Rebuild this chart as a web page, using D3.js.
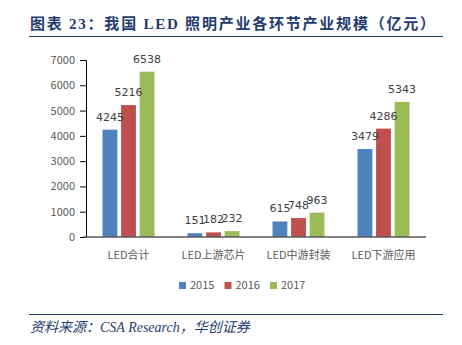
<!DOCTYPE html>
<html lang="zh">
<head>
  <meta charset="UTF-8">
  <title>我国LED照明产业各环节产业规模</title>
  <script src="https://d3js.org/d3.v7.min.js"></script>
  <style>
    body {
      margin: 0;
      background: #fff;
    }
    svg {
      display: block;
    }
    .title {
      font-family: 'Liberation Serif', 'Times New Roman', 'Noto Sans CJK SC', serif;
      font-weight: bold;
      font-size: 15px;
      fill: #1f3b70;
    }
    .source {
      font-family: 'Liberation Serif', 'Times New Roman', 'Noto Sans CJK SC', serif;
      font-style: italic;
      font-size: 14px;
      fill: #1f3b70;
    }
    .y-axis text, .x-label, .legend text {
      font-family: 'Noto Sans CJK SC', 'DejaVu Sans', sans-serif;
      font-size: 11px;
      fill: #595959;
    }
    .value {
      font-family: 'DejaVu Sans', 'Noto Sans CJK SC', sans-serif;
      font-size: 11px;
      fill: #404040;
    }
  </style>
</head>
<body>
  <svg width="462" height="345"></svg>

  <script>
    let categories = ['LED合计', 'LED上游芯片', 'LED中游封装', 'LED下游应用'];
    let years = ['2015', '2016', '2017'];
    let values2015 = [4245, 151, 615, 3479];
    let values2016 = [5216, 182, 748, 4286];
    let values2017 = [6538, 232, 963, 5343];
    let yTicks = [0, 1000, 2000, 3000, 4000, 5000, 6000, 7000];
    let colors = ['#4f81bd', '#c0504d', '#9bbb59'];

    let series = [values2015, values2016, values2017];
    let groupWidth = 52;

    let svg = d3.select('svg');

    // heading with rule below
    svg.append('text')
      .attr('class', 'title')
      .attr('x', 30)
      .attr('y', 29)
      .attr('textLength', 405)
      .attr('lengthAdjust', 'spacing')
      .text('图表 23：我国 LED 照明产业各环节产业规模（亿元）');
    svg.append('line')
      .attr('x1', 29).attr('x2', 443)
      .attr('y1', 36.5).attr('y2', 36.5)
      .attr('stroke', '#1f3b70')
      .attr('stroke-width', 1.2);

    let x0 = d3.scaleBand()
      .domain(categories)
      .range([86, 426]);

    let x1 = d3.scaleBand()
      .domain(years)
      .range([0, groupWidth])
      .paddingInner(0.2);

    let y = d3.scaleLinear()
      .domain([0, 7000])
      .range([237, 60]);

    // y axis
    let yAxis = svg.append('g')
      .attr('class', 'y-axis')
      .attr('transform', 'translate(86,0)')
      .call(d3.axisLeft(y).tickValues(yTicks).tickFormat(d3.format('d')).tickSize(6).tickPadding(5));
    yAxis.select('.domain').attr('stroke', '#000');
    yAxis.selectAll('.tick line').attr('stroke', '#000');

    // bars
    let groups = svg.append('g')
      .selectAll('g')
      .data(categories)
      .join('g')
      .attr('transform', c => `translate(${x0(c) + (x0.bandwidth() - groupWidth) / 2},0)`);

    let cells = (c, ci) => years.map((yr, si) => ({ yr, si, v: series[si][ci] }));

    groups.selectAll('rect')
      .data(cells)
      .join('rect')
      .attr('x', d => x1(d.yr))
      .attr('y', d => y(d.v))
      .attr('width', x1.bandwidth())
      .attr('height', d => y(0) - y(d.v))
      .attr('fill', d => colors[d.si]);

    groups.selectAll('.value')
      .data(cells)
      .join('text')
      .attr('class', 'value')
      .attr('x', d => x1(d.yr) + x1.bandwidth() / 2)
      .attr('y', d => y(d.v) - 9)
      .attr('text-anchor', 'middle')
      .text(d => d.v);

    // x baseline
    svg.append('line')
      .attr('x1', 83).attr('x2', 426)
      .attr('y1', y(0)).attr('y2', y(0))
      .attr('stroke', '#595959')
      .attr('stroke-width', 1.5);

    svg.append('g')
      .selectAll('text')
      .data(categories)
      .join('text')
      .attr('class', 'x-label')
      .attr('x', c => x0(c) + x0.bandwidth() / 2)
      .attr('y', 259)
      .attr('text-anchor', 'middle')
      .text(c => c);

    // legend
    let legend = svg.append('g')
      .attr('class', 'legend')
      .selectAll('g')
      .data(years)
      .join('g')
      .attr('transform', (d, i) => `translate(${179 + i * 45.5},289)`);
    legend.append('rect')
      .attr('x', 0).attr('y', -7)
      .attr('width', 7).attr('height', 7)
      .attr('fill', (d, i) => colors[i]);
    legend.append('text')
      .attr('x', 11)
      .attr('y', 0)
      .text(d => d);

    // source footer
    svg.append('line')
      .attr('x1', 29).attr('x2', 443)
      .attr('y1', 314.5).attr('y2', 314.5)
      .attr('stroke', '#1f3b70')
      .attr('stroke-width', 1.2);
    svg.append('text')
      .attr('class', 'source')
      .attr('x', 30)
      .attr('y', 332)
      .text('资料来源：CSA Research，华创证券');
  </script>
</body>
</html>
